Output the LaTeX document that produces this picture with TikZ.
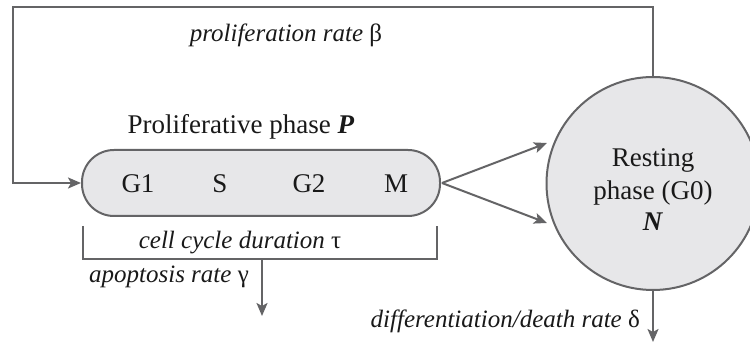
\documentclass[tikz,border=0pt]{standalone}
\usepackage{fontspec}
\setmainfont{Liberation Serif}
\usetikzlibrary{arrows.meta}
\definecolor{linegray}{RGB}{100,100,102}
\definecolor{fillgray}{RGB}{231,231,233}
\definecolor{textblack}{RGB}{25,25,25}
\tikzset{
  conn/.style={draw=linegray, line width=2pt, -{Stealth[length=13pt,width=11pt,inset=3pt]}},
  plain/.style={draw=linegray, line width=1.2pt},
  lbl/.style={font=\fontsize{27}{29}\selectfont, text=textblack, inner sep=0pt},
  itl/.style={font=\fontsize{25}{27}\selectfont\itshape, text=textblack, inner sep=0pt},
}
\newcommand{\gk}[1]{\textup{#1}}
\begin{document}
\begin{tikzpicture}[x=1pt,y=-1pt]
\useasboundingbox (0,0) rectangle (750,347);
% proliferative phase pill
\node[draw=linegray, line width=2pt, fill=fillgray, rounded corners=32pt,
      minimum width=358pt, minimum height=66pt, inner sep=0pt] (pill) at (261,183) {};
\node[lbl] (g1) at (138,184) {G1};
\node[lbl] (s) at (220,184) {S};
\node[lbl] (g2) at (309,184) {G2};
\node[lbl] (m) at (396,184) {M};
\node[lbl] (ptitle) at (241,127) {Proliferative phase \textbf{\textit{P}}};
% resting circle
\node[circle, draw=linegray, line width=2pt, fill=fillgray, minimum size=213pt, inner sep=0pt] (rest) at (653,183.5) {};
\node[lbl, align=center] (resttxt) at (653,190) {Resting\\[4pt]phase (G0)\\[2pt]\textbf{\textit{N}}};
% feedback loop
\coordinate (c1) at (13,7);
\coordinate (c2) at (13,183);
\draw[conn] (rest.north) |- (c1) -- (c2) -- (pill.west);
\node[itl] (prolif) at (286,35) {proliferation rate \gk{β}};
% arrows to resting phase
\coordinate (apex) at (442,183);
\coordinate (tipu) at (547,143);
\coordinate (tipl) at (547,223);
\draw[conn] (apex) -- (tipu);
\draw[conn] (apex) -- (tipl);
% cell cycle bracket
\coordinate (bl) at (83,226);
\coordinate (br) at (437,226);
\draw[plain] (bl) |- (260,259) -| (br);
\node[itl] (ccd) at (240,243) {cell cycle duration \gk{τ}};
\coordinate (apo) at (262,259);
\coordinate (apoend) at (262,316);
\draw[conn] (apo) -- (apoend);
\node[itl, anchor=east] (apotxt) at (249,277) {apoptosis rate \gk{γ}};
% differentiation
\coordinate (diffend) at (653,342);
\draw[conn] (rest.south) -- (diffend);
\node[itl, anchor=east] (difftxt) at (640,321) {differentiation/death rate \gk{δ}};
\end{tikzpicture}
\end{document}
